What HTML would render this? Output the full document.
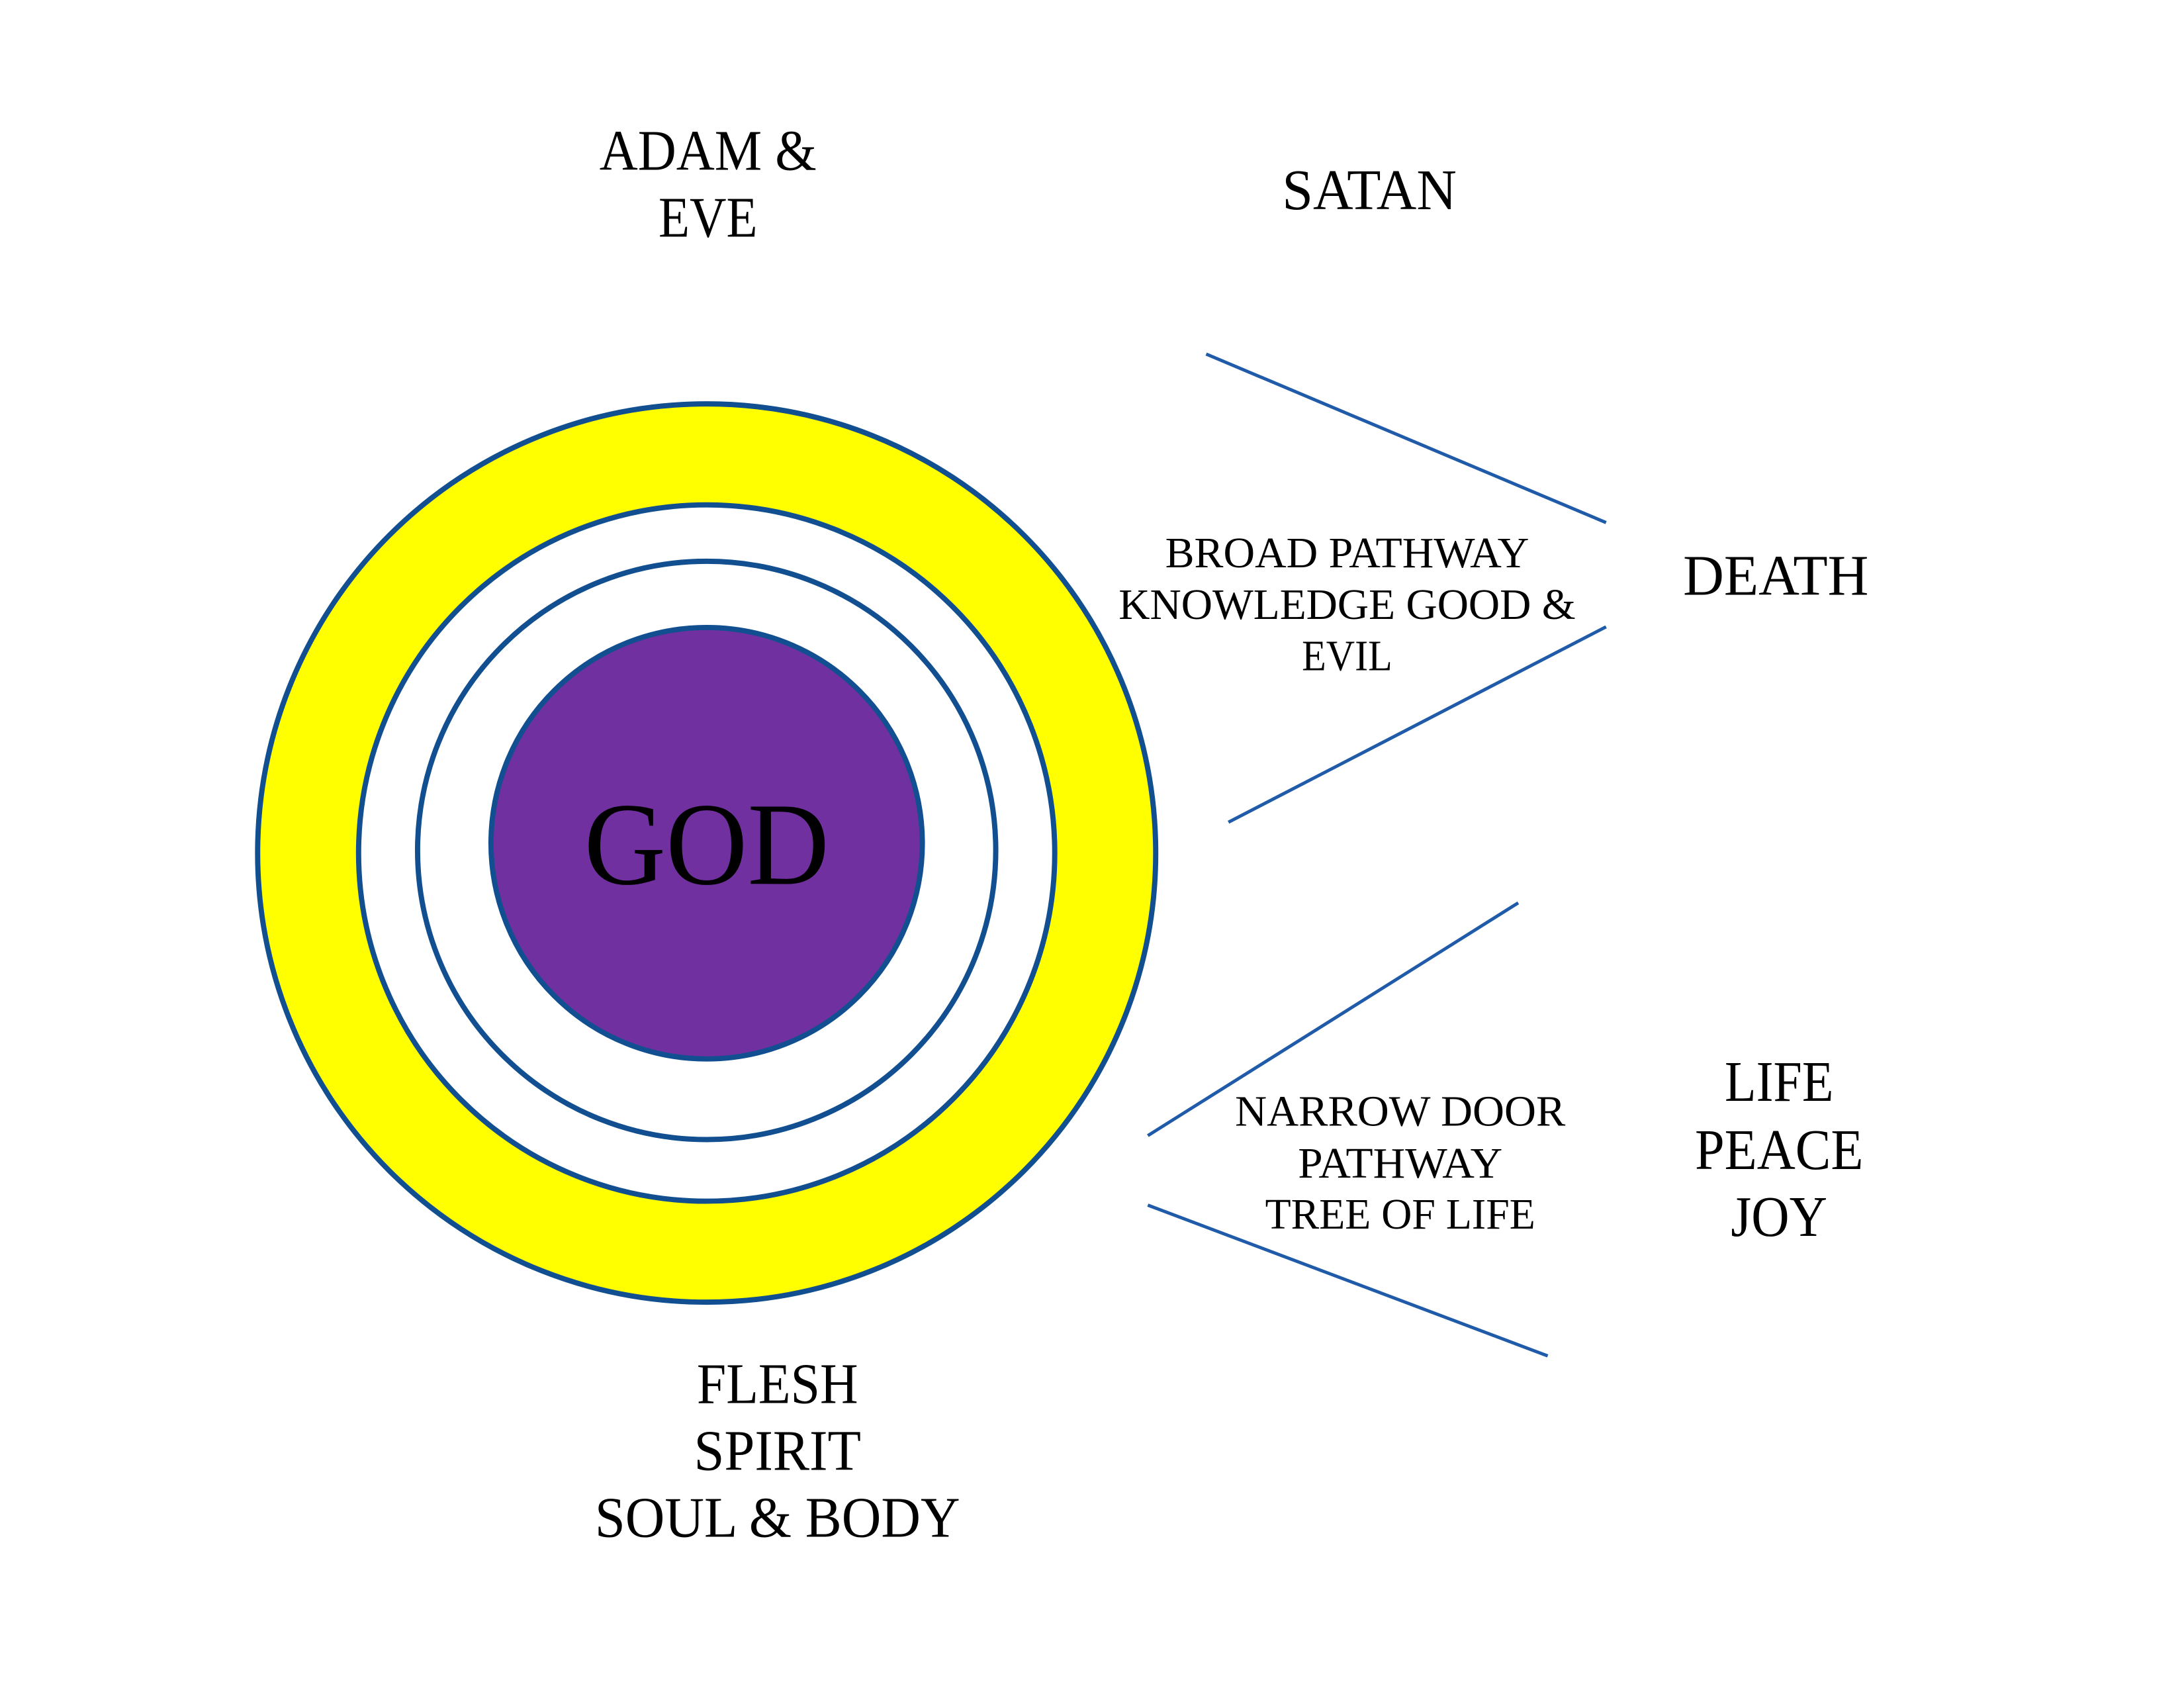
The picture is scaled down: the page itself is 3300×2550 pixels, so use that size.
<!DOCTYPE html>
<html><head><meta charset="utf-8"><style>html,body{margin:0;padding:0;background:#fff}svg{display:block}</style></head>
<body>
<svg width="3300" height="2550" viewBox="0 0 3300 2550" xmlns="http://www.w3.org/2000/svg" font-family="'Liberation Serif', serif" fill="#000">
<rect width="3300" height="2550" fill="#fff"/>
<g transform="scale(0.9905)">
<circle cx="1078" cy="1301" r="685" fill="#ffff00" stroke="#124f91" stroke-width="8"/>
<circle cx="1078" cy="1301" r="531" fill="#fff" stroke="#124f91" stroke-width="8"/>
<circle cx="1078" cy="1297" r="441" fill="#fff" stroke="#124f91" stroke-width="8"/>
<circle cx="1078" cy="1286" r="329" fill="#7030a0" stroke="#124f91" stroke-width="8"/>
<g stroke="#1f5ba8" stroke-width="5">
<line x1="1840" y1="540" x2="2450" y2="797"/>
<line x1="2450" y1="956" x2="1874" y2="1254"/>
<line x1="2316" y1="1377" x2="1751" y2="1732"/>
<line x1="1751" y1="1838" x2="2361" y2="2068"/>
</g>
<g text-anchor="middle">
<text x="1078" y="1348" font-size="180" textLength="374" lengthAdjust="spacingAndGlyphs">GOD</text>
<text x="1080" y="259" font-size="88" textLength="331" lengthAdjust="spacingAndGlyphs">ADAM &amp;</text>
<text x="1080" y="361" font-size="88" textLength="151" lengthAdjust="spacingAndGlyphs">EVE</text>
<text x="2089" y="319" font-size="88" textLength="266" lengthAdjust="spacingAndGlyphs">SATAN</text>
<text x="2055" y="865" font-size="66" textLength="555" lengthAdjust="spacingAndGlyphs">BROAD  PATHWAY</text>
<text x="2055" y="944" font-size="66" textLength="697" lengthAdjust="spacingAndGlyphs">KNOWLEDGE GOOD &amp;</text>
<text x="2055" y="1022" font-size="66" textLength="138" lengthAdjust="spacingAndGlyphs">EVIL</text>
<text x="2709" y="907" font-size="88" textLength="283" lengthAdjust="spacingAndGlyphs">DEATH</text>
<text x="2136" y="1717" font-size="66" textLength="504" lengthAdjust="spacingAndGlyphs">NARROW DOOR</text>
<text x="2136" y="1796" font-size="66" textLength="312" lengthAdjust="spacingAndGlyphs">PATHWAY</text>
<text x="2136" y="1874" font-size="66" textLength="412" lengthAdjust="spacingAndGlyphs">TREE OF LIFE</text>
<text x="2714" y="1679" font-size="88" textLength="166" lengthAdjust="spacingAndGlyphs">LIFE</text>
<text x="2714" y="1783" font-size="88" textLength="257" lengthAdjust="spacingAndGlyphs">PEACE</text>
<text x="2714" y="1885" font-size="88" textLength="147" lengthAdjust="spacingAndGlyphs">JOY</text>
<text x="1186" y="2140" font-size="88" textLength="246" lengthAdjust="spacingAndGlyphs">FLESH</text>
<text x="1186" y="2242" font-size="88" textLength="255" lengthAdjust="spacingAndGlyphs">SPIRIT</text>
<text x="1186" y="2344" font-size="88" textLength="557" lengthAdjust="spacingAndGlyphs">SOUL &amp; BODY</text>
</g>
</g>
</svg>
</body></html>
